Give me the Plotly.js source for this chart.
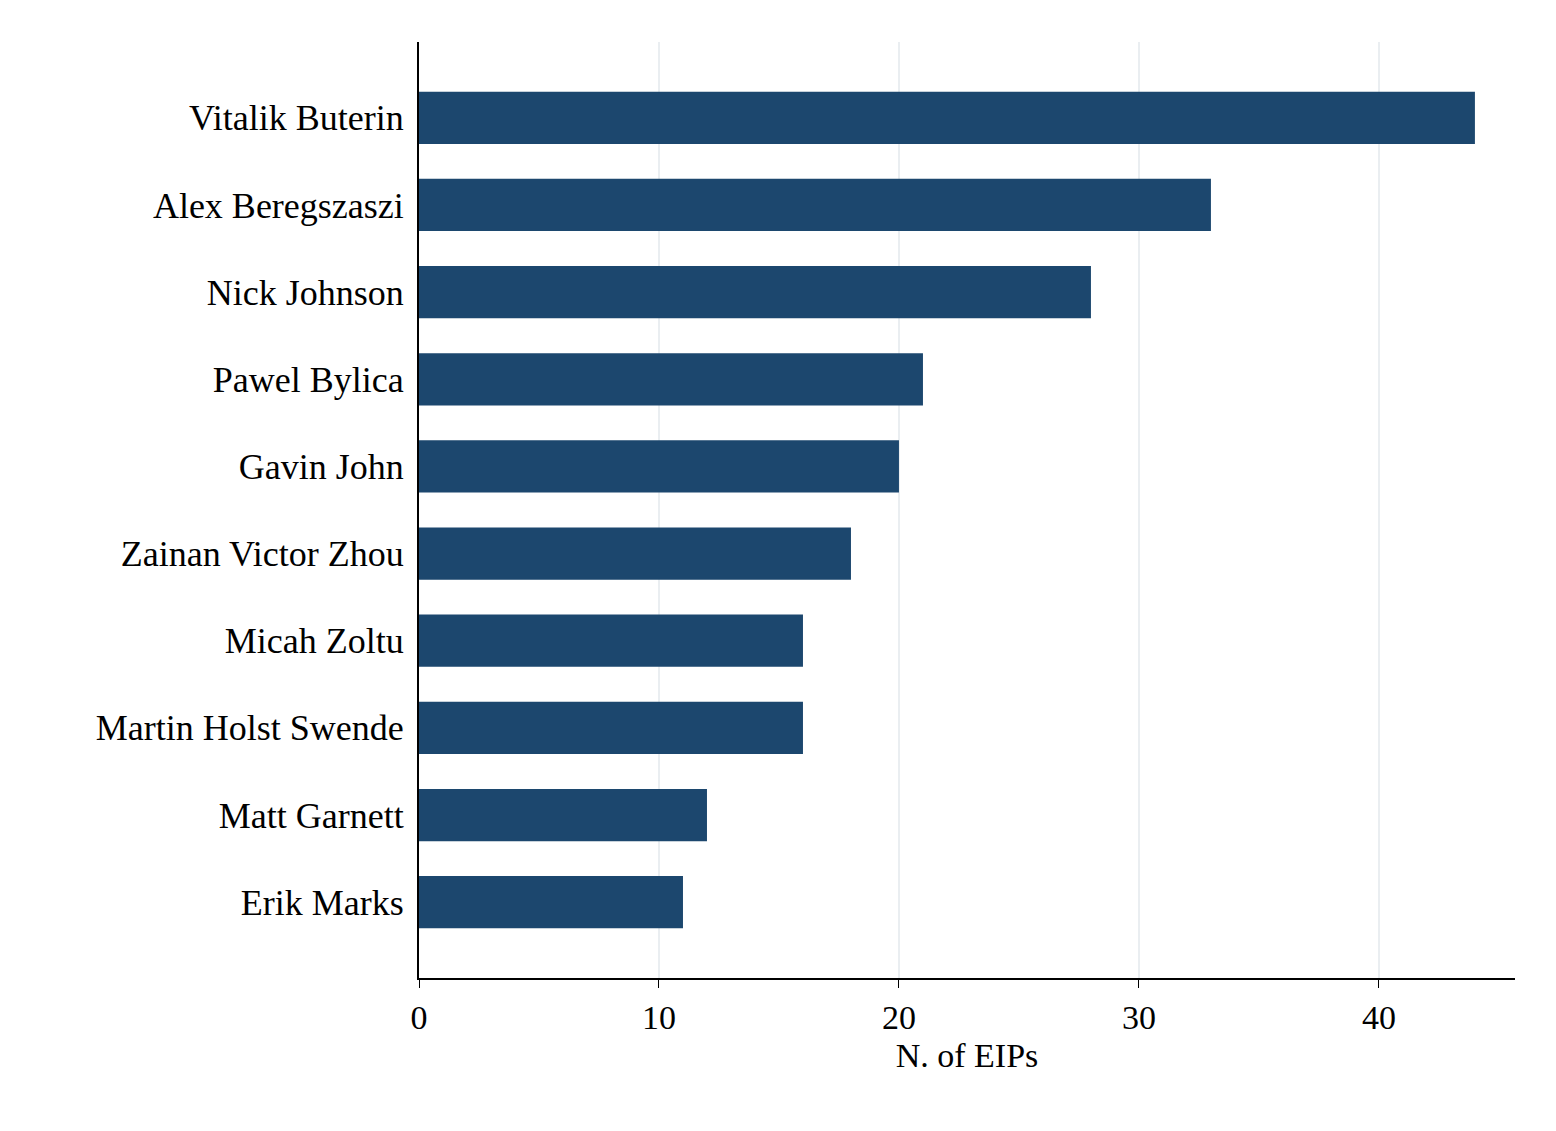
<!DOCTYPE html>
<html>
<head>
<script src="https://cdn.plot.ly/plotly-3.0.1.min.js"></script>
<style>body{margin:0;background:#fff}</style>
</head>
<body>
<div id="plot1" style="width:1556px;height:1131px"></div>
<script>
var authors = ['Vitalik Buterin', 'Alex Beregszaszi', 'Nick Johnson', 'Pawel Bylica', 'Gavin John',
  'Zainan Victor Zhou', 'Micah Zoltu', 'Martin Holst Swende', 'Matt Garnett', 'Erik Marks'];
var eipCounts = [44, 33, 28, 21, 20, 18, 16, 16, 12, 11];
var xTicks = [0, 10, 20, 30, 40];

var trace = {
  type: 'bar',
  orientation: 'h',
  x: eipCounts,
  y: authors,
  width: 0.6,
  marker: {color: '#1c476e'},
  hoverinfo: 'x+y'
};

var layout = {
  width: 1556,
  height: 1131,
  margin: {l: 419, r: 41, t: 42, b: 153},
  paper_bgcolor: '#fff',
  plot_bgcolor: '#fff',
  font: {family: '"Liberation Serif", "Times New Roman", serif', color: '#000', size: 36},
  showlegend: false,
  bargap: 0.4,
  xaxis: {
    range: [0, 45.67],
    tickvals: xTicks,
    ticks: 'outside',
    ticklen: 8,
    tickcolor: '#000',
    showline: true,
    linecolor: '#000',
    linewidth: 2,
    showgrid: true,
    gridcolor: '#eaeef1',
    gridwidth: 2,
    zeroline: false,
    tickfont: {size: 34},
    title: {text: 'N. of EIPs', font: {size: 34}, standoff: 8}
  },
  yaxis: {
    type: 'category',
    range: [9.87, -0.87],
    showline: true,
    linecolor: '#000',
    linewidth: 2,
    ticks: '',
    showgrid: false,
    zeroline: false,
    ticklabelstandoff: 6,
    tickfont: {size: 36}
  }
};

Plotly.newPlot('plot1', [trace], layout, {displayModeBar: false});
</script>
</body>
</html>
